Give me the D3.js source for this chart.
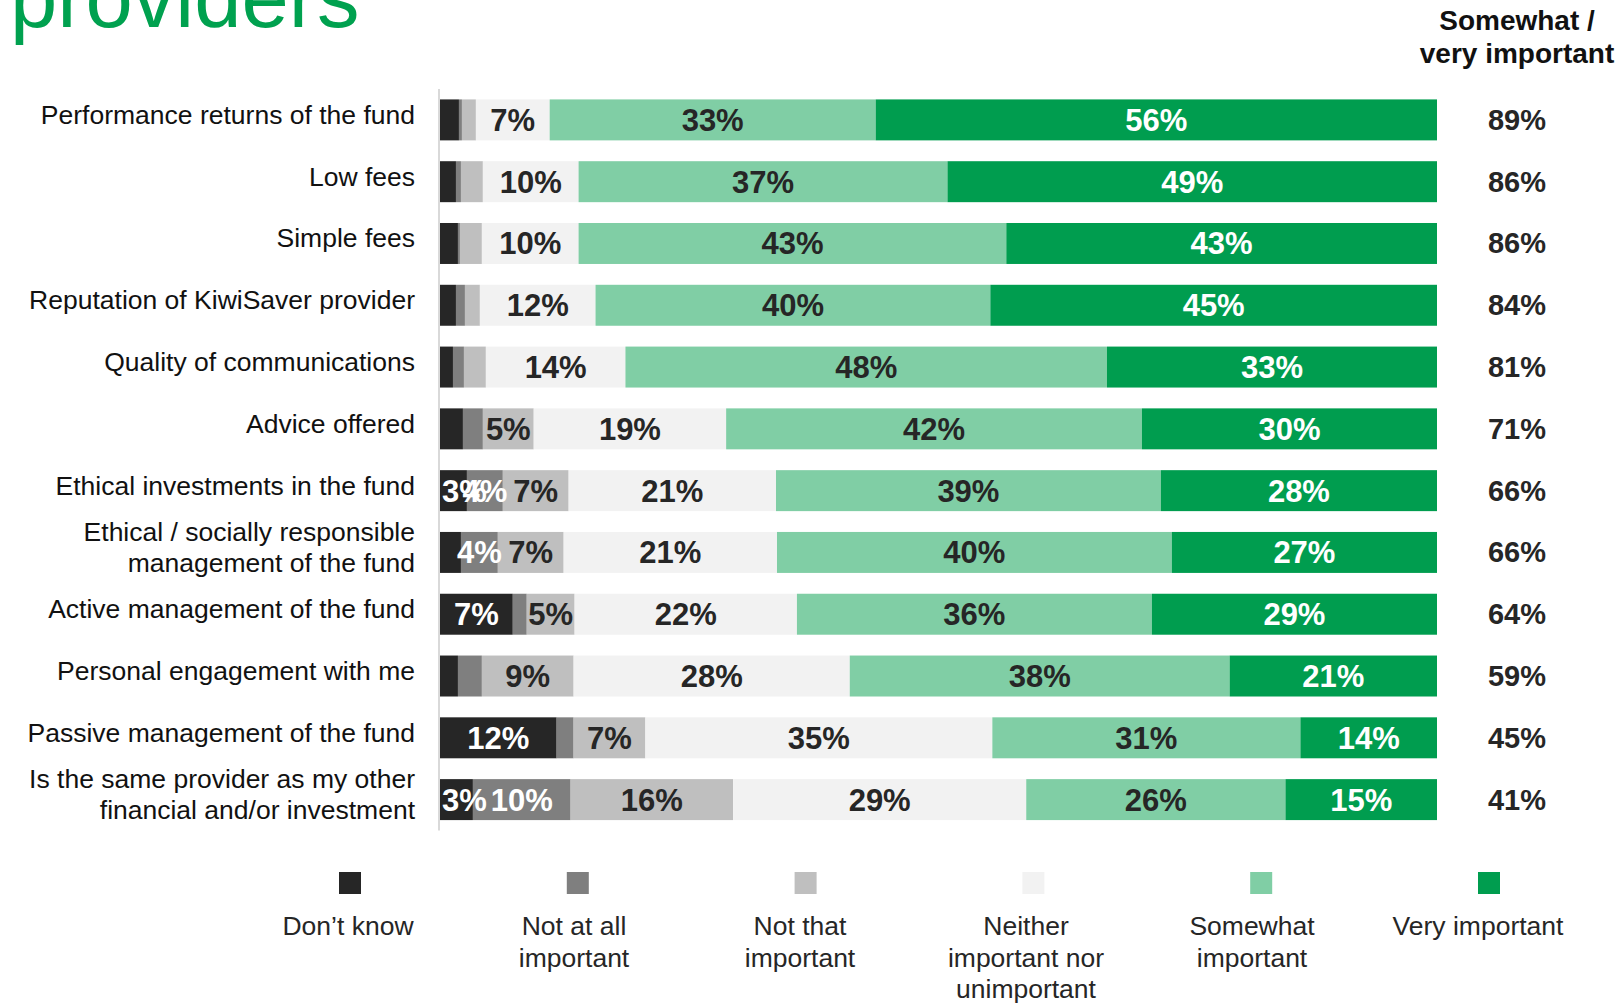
<!DOCTYPE html>
<html>
<head>
<meta charset="utf-8">
<script src="https://cdn.jsdelivr.net/npm/d3@7"></script>
<style>
  html, body { margin: 0; padding: 0; background: #ffffff; }
  svg { display: block; font-family: "Liberation Sans", Arial, sans-serif; }
</style>
</head>
<body>
<svg id="chart" width="1619" height="1004"></svg>
<script>
// Attributes rated, one row each ("\n" breaks a label onto two lines)
const categories = [
  "Performance returns of the fund",
  "Low fees",
  "Simple fees",
  "Reputation of KiwiSaver provider",
  "Quality of communications",
  "Advice offered",
  "Ethical investments in the fund",
  "Ethical / socially responsible\nmanagement of the fund",
  "Active management of the fund",
  "Personal engagement with me",
  "Passive management of the fund",
  "Is the same provider as my other\nfinancial and/or investment"
];

// Share of respondents (%) per answer
const dontKnow  = [1.9, 1.6, 1.8, 1.6, 1.3, 2.3, 2.7, 2.1, 7.3, 1.8, 11.7, 3.3];
const notAtAll  = [0.3, 0.5, 0.2, 0.9, 1.1, 2.0, 3.6, 3.7, 1.4, 2.4, 1.7, 9.8];
const notThat   = [1.4, 2.2, 2.2, 1.5, 2.2, 5.1, 6.6, 6.6, 4.8, 9.2, 7.2, 16.3];
const neither   = [7.4, 9.6, 9.7, 11.6, 14.0, 19.3, 20.8, 21.4, 22.3, 27.7, 34.8, 29.4];
const somewhat  = [32.7, 37.0, 42.9, 39.6, 48.3, 41.7, 38.6, 39.6, 35.6, 38.1, 30.9, 26.0];
const veryImp   = [56.3, 49.1, 43.2, 44.8, 33.1, 29.6, 27.7, 26.6, 28.6, 20.8, 13.7, 15.2];

const seriesKeys   = ["dk", "naa", "nti", "nei", "sw", "vi"];
const legendLabels = ["Don\u2019t know", "Not at all\nimportant", "Not that\nimportant",
                      "Neither\nimportant nor\nunimportant", "Somewhat\nimportant", "Very important"];
const colors     = ["#262626", "#7f7f7f", "#bfbfbf", "#f2f2f2", "#80cea5", "#009d4f"];
const textColors = ["#ffffff", "#ffffff", "#262626", "#262626", "#262626", "#ffffff"];

const headerLines = ["Somewhat /", "very important"];
const titleText = "providers";

const rows = categories.map((c, i) => ({
  cat: c,
  dk: dontKnow[i], naa: notAtAll[i], nti: notThat[i],
  nei: neither[i], sw: somewhat[i], vi: veryImp[i]
}));

const svg = d3.select("#chart");

const x = d3.scaleLinear().domain([0, 100]).range([440, 1437]);
const y = d3.scaleBand().domain(categories).range([89, 830.5])
  .paddingInner(0.337).paddingOuter(0.1685);

// Title fragment at the top edge
svg.append("text")
  .attr("x", 10).attr("y", 27)
  .attr("font-size", 85).attr("fill", "#00a14f")
  .text(titleText);

// Column header for the top-two total
svg.append("g").selectAll("text").data(headerLines).join("text")
  .attr("x", 1517).attr("y", (d, i) => 30 + i * 33)
  .attr("text-anchor", "middle")
  .attr("font-size", 28).attr("font-weight", "bold").attr("fill", "#111")
  .text(d => d);

// Stacked bars
const stacked = d3.stack().keys(seriesKeys)(rows);

const layers = svg.append("g").selectAll("g").data(stacked).join("g")
  .attr("fill", (d, i) => colors[i]);

layers.selectAll("rect").data(d => d).join("rect")
  .attr("x", d => x(d[0]))
  .attr("y", d => y(d.data.cat))
  .attr("width", d => x(d[1]) - x(d[0]))
  .attr("height", y.bandwidth());

// Segment value labels (kept inside the bar's left edge)
const labelLayers = svg.append("g").selectAll("g").data(stacked).join("g")
  .attr("fill", (d, i) => textColors[i]);

labelLayers.selectAll("text")
  .data(d => d.filter(s => Math.round(s[1] - s[0]) >= 3))
  .join("text")
  .attr("y", d => y(d.data.cat) + y.bandwidth() / 2 + 11)
  .attr("text-anchor", "middle")
  .attr("font-size", 31).attr("font-weight", "bold")
  .text(d => Math.round(d[1] - d[0]) + "%")
  .attr("x", function(d) {
    const half = this.getComputedTextLength() / 2;
    return Math.max((x(d[0]) + x(d[1])) / 2, x(0) + 2 + half);
  });

// Vertical baseline at the left of the bars
svg.append("line")
  .attr("x1", x(0) - 1).attr("x2", x(0) - 1)
  .attr("y1", y.range()[0]).attr("y2", y.range()[1])
  .attr("stroke", "#d9d9d9").attr("stroke-width", 2);

// Category labels
const catG = svg.append("g").selectAll("text").data(categories).join("text")
  .attr("text-anchor", "end")
  .attr("font-size", 26.5).attr("fill", "#111");

catG.each(function(c) {
  const lines = c.split("\n");
  const cy = y(c) + y.bandwidth() / 2;
  d3.select(this).selectAll("tspan").data(lines).join("tspan")
    .attr("x", 415)
    .attr("y", (l, i) => cy + 4 + (i - (lines.length - 1) / 2) * 31)
    .text(l => l);
});

// Somewhat + very important totals
svg.append("g").selectAll("text").data(rows).join("text")
  .attr("x", 1517)
  .attr("y", d => y(d.cat) + y.bandwidth() / 2 + 10)
  .attr("text-anchor", "middle")
  .attr("font-size", 29).attr("font-weight", "bold").attr("fill", "#262626")
  .text(d => Math.round(d.sw + d.vi) + "%");

// Legend: swatches and their captions
const legendX = d3.scalePoint().domain(seriesKeys).range([350, 1489]);
const legendTextX = d3.scalePoint().domain(seriesKeys).range([348, 1478]);
const leg = svg.append("g").selectAll("g").data(seriesKeys).join("g");

leg.append("rect")
  .attr("x", k => legendX(k) - 11).attr("y", 872).attr("width", 22).attr("height", 22)
  .attr("fill", (k, i) => colors[i]);

leg.append("text")
  .attr("text-anchor", "middle")
  .attr("font-size", 26.5).attr("fill", "#262626")
  .each(function(k, i) {
    d3.select(this).selectAll("tspan").data(legendLabels[i].split("\n")).join("tspan")
      .attr("x", legendTextX(k))
      .attr("y", (l, j) => 935 + j * 31.5)
      .text(l => l);
  });
</script>
</body>
</html>
